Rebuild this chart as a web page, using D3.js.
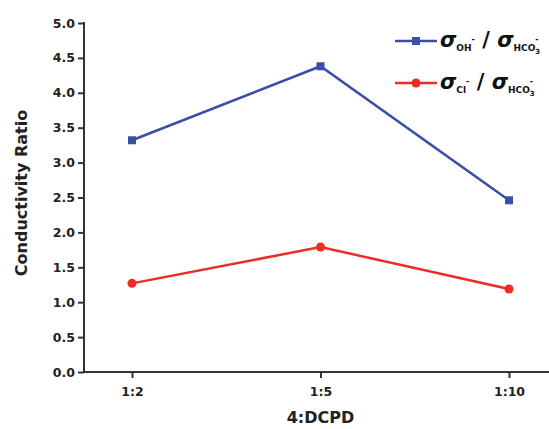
<!DOCTYPE html>
<html>
<head>
<meta charset="utf-8">
<script src="https://cdn.jsdelivr.net/npm/d3@7"></script>
<style>
  body { margin: 0; background: #fff; }
  svg text { font-family: "DejaVu Sans", sans-serif; font-weight: bold; }
</style>
</head>
<body>
<svg id="svg1" width="549" height="429"></svg>
<script>
var categories = ["1:2", "1:5", "1:10"];
var ohValues = [3.32, 4.38, 2.46];
var clValues = [1.27, 1.79, 1.19];
var yTicks = [0, 0.5, 1, 1.5, 2, 2.5, 3, 3.5, 4, 4.5, 5];

var svg = d3.select("svg#svg1");
var plotLeft = 84, plotRight = 549, plotTop = 23, plotBottom = 372;
var axisColor = "#333";

var xScale = d3.scalePoint()
  .domain(categories)
  .range([132, 509]);

var yScale = d3.scaleLinear()
  .domain([0, 5])
  .range([plotBottom, plotTop]);

/* axes */
var yAxis = d3.axisLeft(yScale)
  .tickValues(yTicks)
  .tickFormat(d3.format(".1f"))
  .tickSizeOuter(0)
  .tickSize(6)
  .tickPadding(3);

var gy = svg.append("g")
  .attr("transform", "translate(" + plotLeft + ",0)")
  .call(yAxis);
gy.select(".domain").remove();
gy.selectAll("line").attr("stroke", axisColor).attr("stroke-width", 2);
gy.selectAll("text").attr("font-size", 12.5).attr("fill", "#222");

var xAxis = d3.axisBottom(xScale)
  .tickSize(6)
  .tickPadding(9);

var gx = svg.append("g")
  .attr("transform", "translate(0," + plotBottom + ")")
  .call(xAxis);
gx.select(".domain").remove();
gx.selectAll("line").attr("stroke", axisColor).attr("stroke-width", 2);
gx.selectAll("text").attr("font-size", 12.5).attr("fill", "#222");

svg.append("line")
  .attr("x1", plotLeft).attr("x2", plotLeft)
  .attr("y1", plotTop - 1).attr("y2", plotBottom + 1)
  .attr("stroke", axisColor).attr("stroke-width", 2);
svg.append("line")
  .attr("x1", plotLeft - 1).attr("x2", plotRight)
  .attr("y1", plotBottom).attr("y2", plotBottom)
  .attr("stroke", axisColor).attr("stroke-width", 2);

/* axis titles */
svg.append("text")
  .attr("x", (132 + 509) / 2)
  .attr("y", 423)
  .attr("text-anchor", "middle")
  .attr("font-size", 16)
  .attr("fill", "#222")
  .text("4:DCPD");

svg.append("text")
  .attr("transform", "translate(27,193) rotate(-90)")
  .attr("text-anchor", "middle")
  .attr("font-size", 16)
  .attr("fill", "#222")
  .text("Conductivity Ratio");

/* series */
var series = [
  { name: "oh", values: ohValues, color: "#3a4ea8", shape: "square" },
  { name: "cl", values: clValues, color: "#ec2d26", shape: "circle" }
];

var line = d3.line()
  .x(function(d, i) { return xScale(categories[i]); })
  .y(function(d) { return yScale(d); });

series.forEach(function(s) {
  svg.append("path")
    .datum(s.values)
    .attr("fill", "none")
    .attr("stroke", s.color)
    .attr("stroke-width", 2.5)
    .attr("d", line);

  var sym = d3.symbol()
    .type(s.shape == "square" ? d3.symbolSquare : d3.symbolCircle)
    .size(64);

  svg.selectAll("path.pt-" + s.name)
    .data(s.values)
    .enter()
    .append("path")
    .attr("class", "pt-" + s.name)
    .attr("transform", function(d, i) {
      return "translate(" + xScale(categories[i]) + "," + yScale(d) + ")";
    })
    .attr("d", sym())
    .attr("fill", s.color);
});

/* legend */
var legend = [
  { y: 41, color: "#3a4ea8", shape: "square", sub1: "OH" },
  { y: 83, color: "#ec2d26", shape: "circle", sub1: "Cl" }
];

legend.forEach(function(l) {
  var g = svg.append("g");
  g.append("line")
    .attr("x1", 395).attr("x2", 437)
    .attr("y1", l.y).attr("y2", l.y)
    .attr("stroke", l.color).attr("stroke-width", 2.5);
  g.append("path")
    .attr("transform", "translate(416," + l.y + ")")
    .attr("d", d3.symbol().type(l.shape == "square" ? d3.symbolSquare : d3.symbolCircle).size(64)())
    .attr("fill", l.color);

  var t = g.append("text")
    .attr("x", 440)
    .attr("y", l.y + 6)
    .attr("fill", "#111");
  t.append("tspan").attr("font-size", 21).attr("font-style", "italic").text("σ");
  t.append("tspan").attr("font-size", 9).attr("dy", 4).text(l.sub1);
  t.append("tspan").attr("font-size", 8).attr("dy", -9).text("-");
  t.append("tspan").attr("font-size", 21).attr("dy", 5).text(" / ");
  t.append("tspan").attr("font-size", 21).attr("font-style", "italic").text("σ");
  t.append("tspan").attr("font-size", 9).attr("dy", 4).text("HCO");
  t.append("tspan").attr("font-size", 7).attr("dy", 3).text("3");
  t.append("tspan").attr("font-size", 8).attr("dx", -5).attr("dy", -12).text("-");
});
</script>
</body>
</html>
